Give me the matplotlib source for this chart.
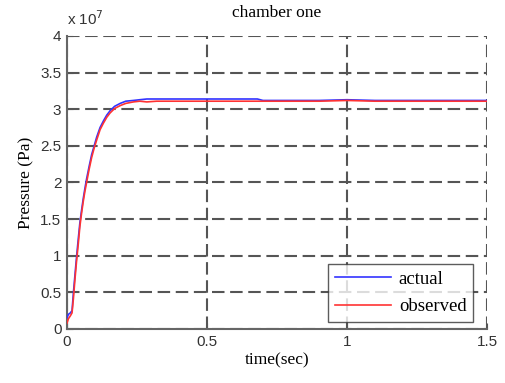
import matplotlib
matplotlib.use("Agg")
import matplotlib.pyplot as plt

# time (s) and pressure (x1e7 Pa)
t_actual = [0.0, 0.005, 0.012, 0.018, 0.023, 0.028, 0.034, 0.040, 0.046, 0.052, 0.058,
            0.064, 0.070, 0.079, 0.088, 0.097, 0.106, 0.118, 0.130, 0.142, 0.154,
            0.170, 0.190, 0.210, 0.237, 0.260, 0.285, 0.32, 0.40, 0.50, 0.60,
            0.68, 0.70, 0.80, 0.90, 1.00, 1.10, 1.20, 1.30, 1.40, 1.50]
p_actual = [0.15, 0.20, 0.22, 0.25, 0.50, 0.72, 0.98, 1.22, 1.45, 1.62, 1.78,
            1.92, 2.05, 2.22, 2.38, 2.50, 2.62, 2.75, 2.84, 2.92, 2.98,
            3.04, 3.08, 3.11, 3.12, 3.13, 3.14, 3.14, 3.14, 3.14, 3.14,
            3.14, 3.12, 3.12, 3.12, 3.13, 3.12, 3.12, 3.12, 3.12, 3.12]

t_observed = [0.0, 0.005, 0.012, 0.018, 0.023, 0.028, 0.034, 0.040, 0.046, 0.052, 0.058,
              0.064, 0.070, 0.079, 0.088, 0.097, 0.106, 0.118, 0.130, 0.142, 0.154,
              0.170, 0.190, 0.210, 0.237, 0.260, 0.285, 0.32, 0.40, 0.50, 0.60,
              0.68, 0.70, 0.80, 0.90, 1.00, 1.10, 1.20, 1.30, 1.40, 1.50]
p_observed = [0.08, 0.14, 0.18, 0.22, 0.42, 0.66, 0.92, 1.15, 1.40, 1.58, 1.74,
              1.88, 2.00, 2.18, 2.34, 2.47, 2.58, 2.72, 2.81, 2.89, 2.95,
              3.01, 3.05, 3.08, 3.10, 3.11, 3.10, 3.11, 3.11, 3.11, 3.11,
              3.11, 3.11, 3.11, 3.11, 3.12, 3.11, 3.11, 3.11, 3.11, 3.11]

x_ticks = [0, 0.5, 1, 1.5]
x_tick_labels = ["0", "0.5", "1", "1.5"]
y_ticks = [0, 0.5, 1, 1.5, 2, 2.5, 3, 3.5, 4]
y_tick_labels = ["0", "0.5", "1", "1.5", "2", "2.5", "3", "3.5", "4"]

fig = plt.figure(figsize=(5.06, 3.83), dpi=100)
ax = fig.add_axes([67/506, 1 - 329/383, 420/506, 293/383])

ax.plot(t_actual, p_actual, color="#3333ff", lw=1.2, label="actual", zorder=3)
ax.plot(t_observed, p_observed, color="#ff3333", lw=1.2, label="observed", zorder=4)

ax.set_xlim(0, 1.5)
ax.set_ylim(0, 4)
ax.set_xticks(x_ticks)
ax.set_xticklabels(x_tick_labels, fontfamily="Liberation Sans", fontsize=11, color="#333333")
ax.set_yticks(y_ticks)
ax.set_yticklabels(y_tick_labels, fontfamily="Liberation Sans", fontsize=11, color="#333333")
ax.tick_params(direction="in", length=4, color="#555555", pad=4)

ax.grid(True, linestyle=(0, (6, 2.7)), color="#555555", lw=1.5)
for s in ["top", "right"]:
    ax.spines[s].set_visible(False)
for s in ["left", "bottom"]:
    ax.spines[s].set_color("#666666")
    ax.spines[s].set_linewidth(1.5)

ax.set_title("chamber one", fontfamily="Liberation Serif", fontsize=12.5, pad=14)
ax.set_xlabel("time(sec)", fontfamily="Liberation Serif", fontsize=12.5, labelpad=3)
ax.set_ylabel("Pressure (Pa)", fontfamily="Liberation Serif", fontsize=12.5, labelpad=4)

fig.text(67/506, 1 - 19/383, r"x 10$^{7}$", fontfamily="Liberation Sans", fontsize=11,
         color="#333333", va="center", ha="left")

leg = ax.legend(loc="lower right", bbox_to_anchor=(473/506, 1 - 322/383),
                bbox_transform=fig.transFigure, frameon=True, fancybox=False,
                prop={"family": "Liberation Serif", "size": 13.5},
                handlelength=3.0, borderpad=0.35, labelspacing=0.55, handletextpad=0.4,
                borderaxespad=0)
leg.get_frame().set_edgecolor("#333333")
leg.get_frame().set_linewidth(1.0)

fig.savefig("out.png", dpi=100)
